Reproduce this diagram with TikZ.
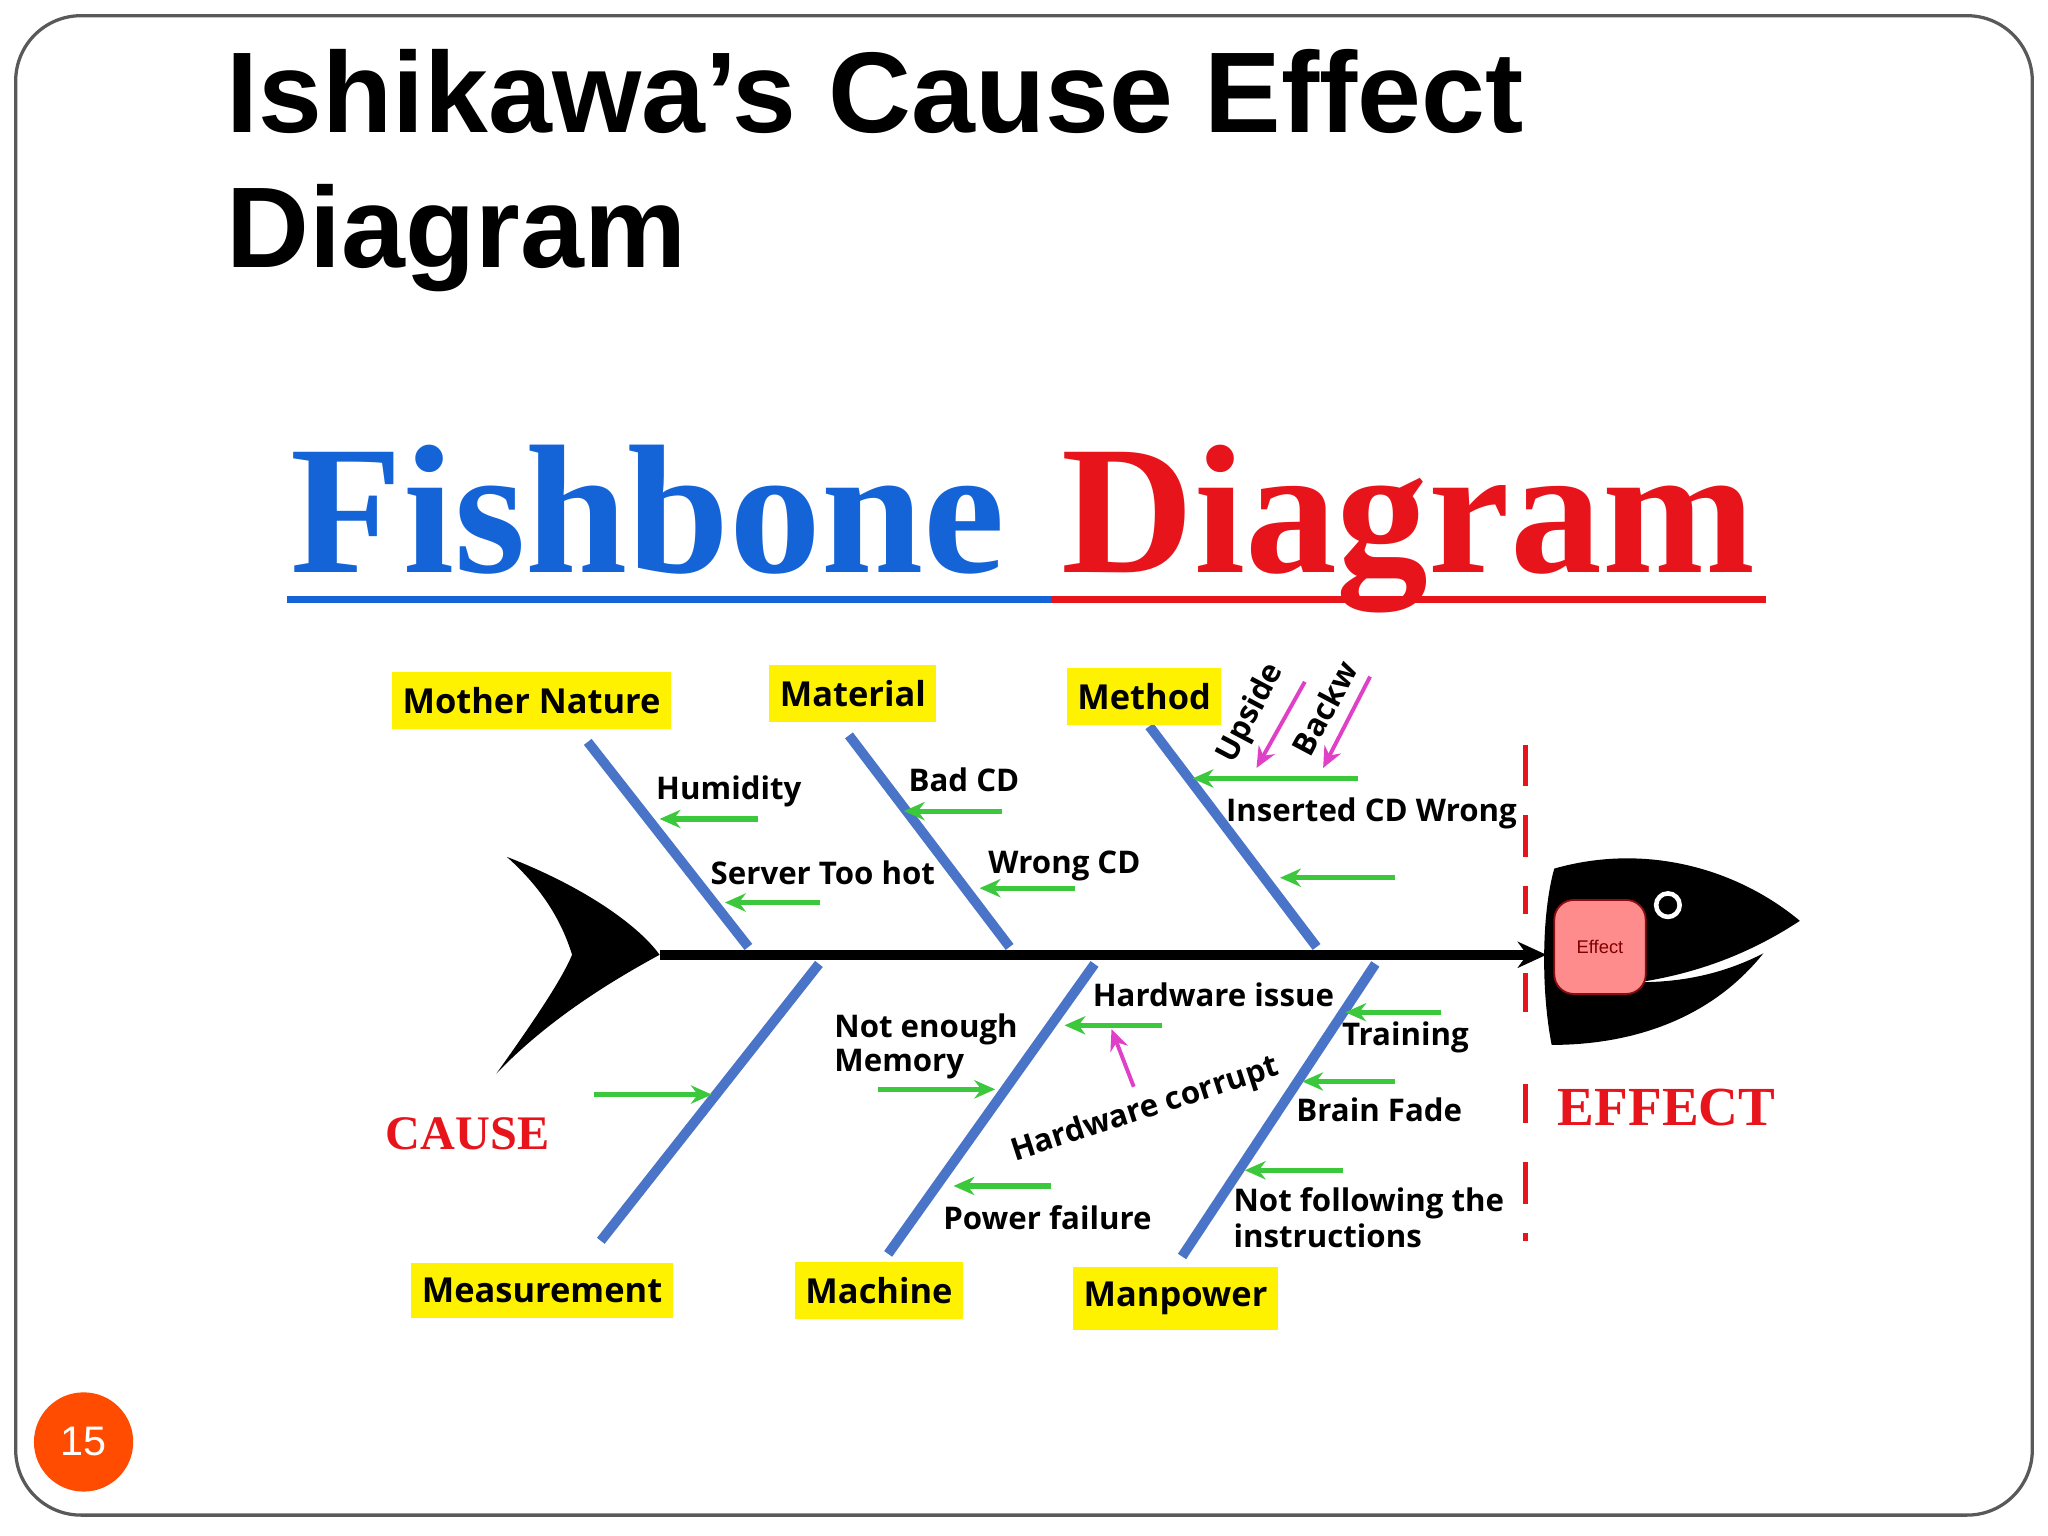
\documentclass[tikz,border=0pt]{standalone}
\usepackage{fontspec}
\setmainfont{Liberation Sans}
\newfontfamily\lab{Open Sans}
\newfontfamily\fsh{Liberation Serif}
\usetikzlibrary{arrows.meta}
\definecolor{bone}{HTML}{4A74C8}
\definecolor{grn}{HTML}{3CC83C}
\definecolor{pnk}{HTML}{E040C8}
\definecolor{fred}{HTML}{E8141C}
\definecolor{fblue}{HTML}{1464D8}
\tikzset{
 bonel/.style={bone,line width=0.75mm},
 garrow/.style={grn,line width=0.4mm,-{Stealth[length=1.6mm,width=1.4mm]}},
 parrow/.style={pnk,line width=0.3mm,-{Stealth[length=1.6mm,width=1.4mm]}},
 lbl/.style={font=\lab\bfseries\fontsize{6.8}{7}\selectfont,inner sep=0pt},
 lbl2/.style={lbl,align=left,font=\lab\bfseries\fontsize{6.8}{6.3}\selectfont},
 ybox/.style={fill=yellow,font=\lab\bfseries\fontsize{7.5}{8}\selectfont,inner xsep=0.8mm,minimum height=4.1mm},
}
\begin{document}
\begin{tikzpicture}[x=0.1mm,y=-0.1mm]
\useasboundingbox (0,0) rectangle (1568,1176);
\draw[gray!70!black,line width=0.25mm,rounded corners=5mm] (12,12) rectangle (1556,1160);
\node[anchor=north west,align=left,inner sep=0pt,font=\bfseries\fontsize{25}{29.5}\selectfont] (title) at (173,37) {Ishikawa’s Cause Effect\\Diagram};
% fishbone title
\node[anchor=base west,inner sep=0pt,text=fblue,font=\fsh\bfseries\fontsize{40}{44}\selectfont] (t1) at (222,438) {Fishbone};
\node[anchor=base west,inner sep=0pt,text=fred,font=\fsh\bfseries\fontsize{40}{44}\selectfont] (t2) at (812,438) {Diagram};
\draw[fblue,line width=0.6mm] (220,459) -- (805,459);
\draw[fred,line width=0.6mm] (805,459) -- (1352,459);
% tail
\fill[black] (388,656) .. controls (450,680) and (490,710) .. (505,731) .. controls (470,750) and (420,780) .. (380,822) .. controls (410,780) and (430,750) .. (438,731) .. controls (430,705) and (415,680) .. (388,656) -- cycle;
% head
\fill[black] (1190,665) .. controls (1260,645) and (1330,665) .. (1378,705) .. controls (1340,730) and (1300,745) .. (1255,752) .. controls (1300,752) and (1330,740) .. (1350,730) .. controls (1310,780) and (1250,800) .. (1188,800) .. controls (1180,760) and (1180,700) .. (1190,665) -- cycle;
\node[draw=fred!60!black,fill=red!45,rounded corners=1.5mm,minimum width=7mm,minimum height=7.2mm,inner sep=0pt,font=\fontsize{4}{5}\selectfont,text=red!50!black] (eff) at (1225,725) {Effect};
\draw[white,line width=0.35mm,fill=black] (1277,693) circle (9);
% spine
\coordinate (s0) at (505,731); \coordinate (s1) at (1184,731);
\draw[black,line width=0.8mm,-{Stealth[length=2.2mm,width=2mm]}] (s0) -- (s1);
\draw[fred,line width=0.45mm,dash pattern=on 3.2mm off 2.2mm] (1168,570) -- (1168,700);
\draw[fred,line width=0.45mm,dash pattern=on 3.2mm off 2.2mm] (1168,745) -- (1168,775) (1168,830) -- (1168,860) (1168,890) -- (1168,950);
\node[text=fred,font=\fsh\bfseries\fontsize{12}{13}\selectfont,inner sep=0pt] (effect) at (1276,848) {EFFECT};
\node[text=fred,font=\fsh\bfseries\fontsize{10.5}{12}\selectfont,inner sep=0pt] (cause) at (358,868) {CAUSE};
% bones
\draw[bonel] (450,568) -- (573,725);
\draw[bonel] (650,563) -- (773,725);
\draw[bonel] (880,556) -- (1008,725);
\draw[bonel] (627,738) -- (460,950);
\draw[bonel] (838,738) -- (680,960);
\draw[bonel] (1053,738) -- (905,962);
% category boxes
\node[ybox] (mn) at (407,536) {Mother Nature};
\node[ybox] (mat) at (653,531) {Material};
\node[ybox] (met) at (876,533) {Method};
\node[ybox] (mea) at (415,988) {Measurement};
\node[ybox] (mac) at (673,988) {Machine};
\node[ybox] (man) at (900,994) {Manpower};
% cause labels
\node[lbl] (hum) at (558,606) {Humidity};
\draw[garrow] (580,627) -- (505,627);
\node[lbl] (sth) at (630,668) {Server Too hot};
\draw[garrow] (628,691) -- (555,691);
\node[lbl] (bcd) at (738,597) {Bad CD};
\draw[garrow] (767,621) -- (692,621);
\node[lbl] (wcd) at (815,663) {Wrong CD};
\draw[garrow] (823,680) -- (750,680);
\node[lbl] (icw) at (1050,623) {Inserted CD Wrong};
\draw[garrow] (1040,596) -- (913,596);
\draw[garrow] (1068,672) -- (980,672);
\node[lbl,rotate=62] (ups) at (958,546) {Upside};
\node[lbl,rotate=62] (bkw) at (1014,542) {Backw};
\draw[parrow] (999,522) -- (962,588);
\draw[parrow] (1049,518) -- (1013,588);
\draw[garrow] (455,838) -- (545,838);
\node[lbl2] (nem) at (709,801) {Not enough\\Memory};
\draw[garrow] (672,834) -- (762,834);
\node[lbl] (hwi) at (929,762) {Hardware issue};
\draw[garrow] (890,785) -- (815,785);
\draw[parrow] (868,832) -- (851,788);
\node[lbl,rotate=18] (hwc) at (877,850) {Hardware corrupt};
\node[lbl] (pf) at (802,932) {Power failure};
\draw[garrow] (805,908) -- (730,908);
\node[lbl] (trn) at (1076,794) {Training};
\draw[garrow] (1103,775) -- (1030,775);
\node[lbl] (bf) at (1056,850) {Brain Fade};
\draw[garrow] (1068,828) -- (997,828);
\node[lbl2] (nft) at (1048,932) {Not following the\\instructions};
\draw[garrow] (1028,896) -- (953,896);
% page number
\node[circle,fill=orange!60!red,minimum size=7.6mm,inner sep=0pt,text=white,font=\fontsize{9}{10}\selectfont] (pg) at (64,1104) {15};
\end{tikzpicture}
\end{document}
